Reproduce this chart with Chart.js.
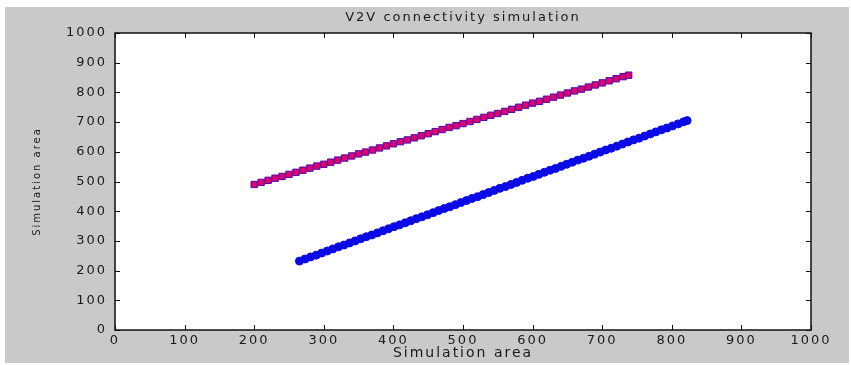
<!DOCTYPE html>
<html>
<head>
<meta charset="utf-8">
<script src="https://cdn.jsdelivr.net/npm/chart.js@4.4.1/dist/chart.umd.min.js"></script>
<style>
  html, body { margin: 0; padding: 0; background: #fff; }
  #wrap { width: 851px; height: 365px; }
</style>
</head>
<body>
<div id="wrap"><canvas id="v2vChart" width="851" height="365"></canvas></div>
<script>
// vehicle positions
const redX = [200, 210, 220, 230, 240, 250, 260, 270, 280, 290,
              300, 310, 320, 330, 340, 350, 360, 370, 380, 390,
              400, 410, 420, 430, 440, 450, 460, 470, 480, 490,
              500, 510, 520, 530, 540, 550, 560, 570, 580, 590,
              600, 610, 620, 630, 640, 650, 660, 670, 680, 690,
              700, 710, 720, 730, 738];
const redY = [490, 497, 504, 511, 517, 524, 531, 538, 545, 552,
              558, 565, 572, 579, 586, 593, 599, 606, 613, 620,
              627, 634, 640, 647, 654, 661, 668, 675, 682, 688,
              695, 702, 709, 716, 723, 729, 736, 743, 750, 757,
              764, 770, 777, 784, 791, 798, 805, 811, 818, 825,
              832, 839, 846, 853, 858];

const blueX = [265, 273, 281, 289, 297, 305, 313, 321, 329, 337,
               345, 353, 361, 369, 377, 385, 393, 401, 409, 417,
               425, 433, 441, 449, 457, 465, 473, 481, 489, 497,
               505, 513, 521, 529, 537, 545, 553, 561, 569, 577,
               585, 593, 601, 609, 617, 625, 633, 641, 649, 657,
               665, 673, 681, 689, 697, 705, 713, 721, 729, 737,
               745, 753, 761, 769, 777, 785, 793, 801, 809, 817, 822];
const blueY = [232, 239, 246, 252, 259, 266, 273, 280, 286, 293,
               300, 307, 314, 320, 327, 334, 341, 348, 354, 361,
               368, 375, 381, 388, 395, 402, 409, 415, 422, 429,
               436, 443, 449, 456, 463, 470, 477, 483, 490, 497,
               504, 511, 517, 524, 531, 538, 544, 551, 558, 565,
               572, 578, 585, 592, 599, 606, 612, 619, 626, 633,
               640, 646, 653, 660, 667, 674, 680, 687, 694, 701, 705];

const axisMin = 0, axisMax = 1000, axisStep = 100;

const toPoints = (xs, ys) => xs.map((x, i) => ({ x: x, y: ys[i] }));

// matlab-ish figure: grey frame, wide text, ticks pointing inwards
const figurePlugin = {
    id: 'figure',
    beforeLayout(chart) { chart.ctx.letterSpacing = '2px'; },
    beforeDraw(chart) {
        const ctx = chart.ctx;
        ctx.letterSpacing = '2px';
        const a = chart.chartArea;
        ctx.save();
        ctx.fillStyle = '#fff';
        ctx.fillRect(0, 0, chart.width, chart.height);
        ctx.fillStyle = '#c9c9c9';
        ctx.fillRect(5, 7, 844, 356);
        ctx.fillStyle = '#fff';
        ctx.fillRect(a.left, a.top, a.right - a.left, a.bottom - a.top);
        ctx.restore();
    },
    afterDraw(chart) {
        const ctx = chart.ctx;
        const a = chart.chartArea;
        const xs = chart.scales.x, ys = chart.scales.y;
        const len = 5;
        ctx.save();
        ctx.strokeStyle = '#111';
        ctx.lineWidth = 1;
        ctx.beginPath();
        xs.ticks.forEach(t => {
            const px = Math.round(xs.getPixelForValue(t.value)) + 0.5;
            ctx.moveTo(px, a.bottom); ctx.lineTo(px, a.bottom - len);
            ctx.moveTo(px, a.top); ctx.lineTo(px, a.top + len);
        });
        ys.ticks.forEach(t => {
            const py = Math.round(ys.getPixelForValue(t.value)) + 0.5;
            ctx.moveTo(a.left, py); ctx.lineTo(a.left + len, py);
            ctx.moveTo(a.right, py); ctx.lineTo(a.right - len, py);
        });
        ctx.stroke();
        ctx.lineWidth = 1.5;
        ctx.strokeRect(a.left, a.top, a.right - a.left, a.bottom - a.top);
        ctx.restore();
    }
};

const tickFont = { family: 'DejaVu Sans', size: 13 };
const plainLabel = v => String(v);

new Chart(document.getElementById('v2vChart').getContext('2d'), {
    type: 'scatter',
    data: {
        datasets: [
            {
                label: 'Vehicles lane 1',
                data: toPoints(redX, redY),
                pointStyle: 'rect',
                pointRadius: 4.5,
                backgroundColor: '#e4006a',
                borderColor: '#4a0ab0',
                borderWidth: 1
            },
            {
                label: 'Vehicles lane 2',
                data: toPoints(blueX, blueY),
                pointStyle: 'circle',
                pointRadius: 4,
                backgroundColor: '#0a0ae6',
                borderColor: '#0a0ae6',
                borderWidth: 1
            }
        ]
    },
    options: {
        responsive: false,
        animation: false,
        devicePixelRatio: 1,
        layout: { padding: { left: 0, right: 40, top: 0, bottom: 0 } },
        plugins: {
            legend: { display: false },
            tooltip: { enabled: false },
            title: {
                display: true,
                text: 'V2V connectivity simulation',
                fullSize: false,
                color: '#1a1a1a',
                font: { family: 'DejaVu Sans', size: 13, weight: 'normal' },
                padding: { top: 10, bottom: 7.4 }
            }
        },
        scales: {
            x: {
                type: 'linear',
                min: axisMin,
                max: axisMax,
                grid: { display: false, drawTicks: false },
                border: { display: false },
                ticks: {
                    stepSize: axisStep,
                    autoSkip: false,
                    maxRotation: 0,
                    padding: 3,
                    color: '#1a1a1a',
                    font: tickFont,
                    callback: plainLabel
                },
                title: {
                    display: true,
                    text: 'Simulation area',
                    color: '#1a1a1a',
                    font: { family: 'DejaVu Sans', size: 14 },
                    padding: { top: 0, bottom: 3 }
                },
                afterFit(scale) { scale.height = 35; }
            },
            y: {
                type: 'linear',
                min: axisMin,
                max: axisMax,
                grid: { display: false, drawTicks: false },
                border: { display: false },
                ticks: {
                    stepSize: axisStep,
                    autoSkip: false,
                    padding: 8,
                    color: '#1a1a1a',
                    font: tickFont,
                    callback: plainLabel
                },
                title: {
                    display: true,
                    text: 'Simulation area',
                    color: '#1a1a1a',
                    font: { family: 'DejaVu Sans', size: 10 },
                    padding: { top: 31, bottom: 0 }
                },
                afterFit(scale) { scale.width = 115; }
            }
        }
    },
    plugins: [figurePlugin]
});
</script>
</body>
</html>
